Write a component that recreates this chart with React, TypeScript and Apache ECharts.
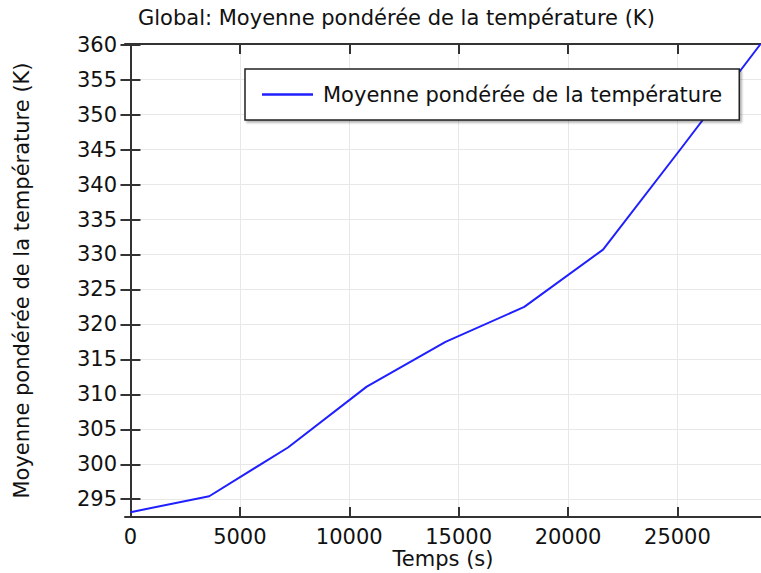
import React, { useEffect, useRef } from "react";
import * as echarts from "echarts";

// Volume-weighted mean temperature over time
const timeS = [0, 3600, 7200, 10800, 14400, 18000, 21600, 25200, 28800];
const tempK = [293.15, 295.43, 302.4, 311.1, 317.5, 322.5, 330.7, 345.3, 360.1];

const xTicks = [0, 5000, 10000, 15000, 20000, 25000];
const yTicks = [295, 300, 305, 310, 315, 320, 325, 330, 335, 340, 345, 350, 355, 360];

const seriesName = "Moyenne pondérée de la température";
const titleText = "Global: Moyenne pondérée de la température (K)";
const xName = "Temps (s)";
const yName = "Moyenne pondérée de la température (K)";

const FONT = "DejaVu Sans";
const FS = 21;
const TEXT_COLOR = "#111";
const AXIS_COLOR = "#333";
const GRID_COLOR = "#e8e8e8";
const LINE_COLOR = "#1f1fff";

export default function App() {
  const ref = useRef<HTMLDivElement>(null);

  useEffect(() => {
    if (!ref.current) return;
    const chart = echarts.init(ref.current, undefined, { renderer: "svg" });

    const xRange = { min: -250, max: 28820 };
    const yRange = { min: 292.46, max: 360.1 };

    const frame = {
      axisLine: { show: true, lineStyle: { color: AXIS_COLOR, width: 2 } },
      axisTick: { show: true, inside: true, length: 10, lineStyle: { color: AXIS_COLOR, width: 2 } },
    };
    const plain = (v: number) => String(v);

    chart.setOption({
      animation: false,
      backgroundColor: "#fff",
      title: {
        text: titleText,
        left: 133,
        top: 2,
        textStyle: { fontFamily: FONT, fontSize: FS, fontWeight: "normal", color: TEXT_COLOR },
      },
      legend: {
        data: [seriesName],
        left: 245,
        top: 69,
        padding: [15, 17, 15, 17],
        backgroundColor: "#fff",
        borderColor: "#222",
        borderWidth: 1.5,
        shadowColor: "rgba(0,0,0,0.3)",
        shadowBlur: 2,
        shadowOffsetX: 2,
        shadowOffsetY: 2,
        icon: "rect",
        itemWidth: 51,
        itemHeight: 2.5,
        textStyle: { fontFamily: FONT, fontSize: FS, color: TEXT_COLOR, padding: [0, 0, 0, 5] },
      },
      grid: {
        left: 125,
        top: 44,
        right: 0,
        bottom: 56,
        containLabel: false,
        outerBoundsMode: "none",
      },
      xAxis: [
        {
          type: "value",
          ...xRange,
          name: xName,
          nameLocation: "middle",
          nameGap: 31,
          nameMoveOverlap: false,
          nameTextStyle: { fontFamily: FONT, fontSize: FS, color: TEXT_COLOR },
          ...frame,
          axisTick: { ...frame.axisTick, customValues: xTicks },
          axisLabel: {
            customValues: xTicks,
            formatter: plain,
            fontFamily: FONT,
            fontSize: FS,
            color: TEXT_COLOR,
            margin: 9,
          },
          splitLine: { show: true, lineStyle: { color: GRID_COLOR, width: 1 } },
        },
        {
          type: "value",
          position: "top",
          ...xRange,
          ...frame,
          axisTick: { ...frame.axisTick, customValues: xTicks },
          axisLabel: { show: false, customValues: xTicks },
          splitLine: { show: false },
        },
      ],
      yAxis: [
        {
          type: "value",
          ...yRange,
          name: yName,
          nameLocation: "middle",
          nameGap: 93,
          nameMoveOverlap: false,
          nameTextStyle: { fontFamily: FONT, fontSize: FS, color: TEXT_COLOR },
          ...frame,
          axisTick: { ...frame.axisTick, customValues: yTicks },
          axisLabel: {
            customValues: yTicks,
            formatter: plain,
            fontFamily: FONT,
            fontSize: FS,
            color: TEXT_COLOR,
            margin: 8,
          },
          splitLine: { show: true, lineStyle: { color: GRID_COLOR, width: 1 } },
        },
        {
          type: "value",
          position: "right",
          ...yRange,
          ...frame,
          axisTick: { ...frame.axisTick, customValues: yTicks },
          axisLabel: { show: false, customValues: yTicks },
          splitLine: { show: false },
        },
      ],
      series: [
        {
          name: seriesName,
          type: "line",
          data: timeS.map((t, i) => [t, tempK[i]]),
          symbol: "none",
          lineStyle: { color: LINE_COLOR, width: 2 },
          itemStyle: { color: LINE_COLOR },
          clip: true,
          z: 3,
        },
      ],
    });

    return () => chart.dispose();
  }, []);

  return (
    <div
      ref={ref}
      style={{ position: "fixed", left: 0, top: 0, width: 761, height: 573 }}
    />
  );
}
